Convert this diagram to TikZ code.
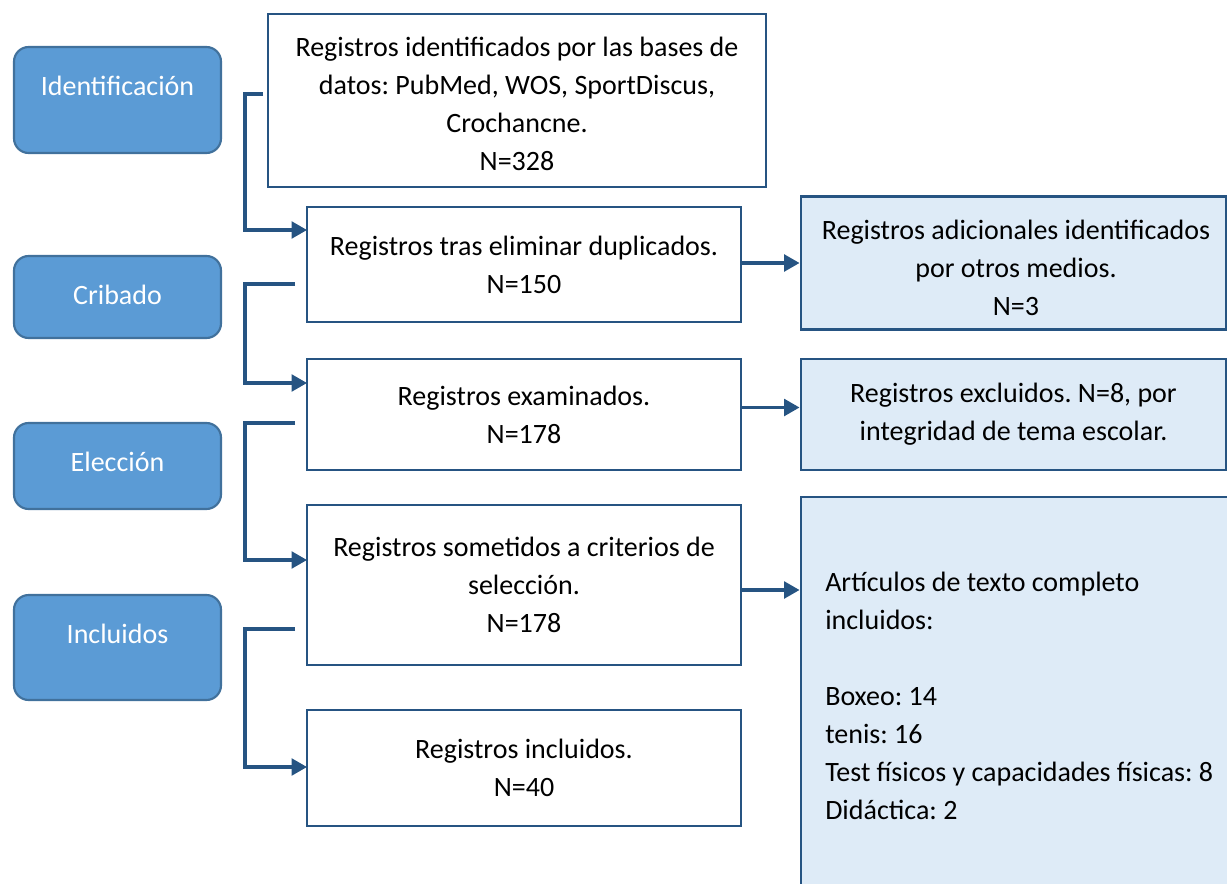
\documentclass[tikz,border=0pt]{standalone}
\usepackage{fontspec}
\setmainfont{Carlito}
\frenchspacing
\usetikzlibrary{arrows.meta,calc}
\definecolor{phasefill}{RGB}{91,155,213}
\definecolor{phaseline}{RGB}{65,113,156}
\definecolor{linkblue}{RGB}{38,84,130}
\definecolor{notefill}{RGB}{222,235,247}
\begin{document}
\begin{tikzpicture}[x=0.75pt,y=-0.75pt,
  font=\fontsize{21}{28.5}\selectfont,
  phase/.style={draw=phaseline, line width=1.6pt, fill=phasefill, rounded corners=11pt, inner sep=0pt},
  phasetext/.style={text=white, inner sep=0pt},
  stepbox/.style={draw=linkblue, line width=2.2pt, fill=white, inner sep=0pt, align=center},
  notebox/.style={draw=linkblue, line width=2.2pt, fill=notefill, inner sep=0pt, align=center},
  conn/.style={draw=linkblue, line width=2.3pt, -{Triangle[length=11.5pt,width=12.5pt]}}
  ]
\useasboundingbox (0,0) rectangle (1227,884);
\clip (0,0) rectangle (1227,884);

% phase boxes
\node[phase, minimum width=207*0.75pt, minimum height=106*0.75pt] (idbox) at (117.5,100) {};
\node[phase, minimum width=207*0.75pt, minimum height=82*0.75pt] (cribox) at (117.5,297) {};
\node[phase, minimum width=207*0.75pt, minimum height=86*0.75pt] (elebox) at (117.5,466) {};
\node[phase, minimum width=207*0.75pt, minimum height=105*0.75pt] (incbox) at (117.5,647.5) {};
\node[phasetext] (idtext) at (117.5,86) {Identificación};
\node[phasetext] (critext) at (117.5,295) {Cribado};
\node[phasetext] (eletext) at (117.5,462) {Elección};
\node[phasetext] (inctext) at (117.5,634) {Incluidos};

% main column
\node[stepbox, minimum width=498*0.75pt, minimum height=173*0.75pt] (dbs) at (517,100.5) {};
\node[align=center, inner sep=0pt] (dbstext) at (517,104)
  {Registros identificados por las bases de\\datos: PubMed, WOS, SportDiscus,\\Crochancne.\\N=328};
\node[stepbox, minimum width=434*0.75pt, minimum height=115*0.75pt] (dup) at (524,264.5)
  {Registros tras eliminar duplicados.\\N=150};
\node[stepbox, minimum width=434*0.75pt, minimum height=111*0.75pt] (exam) at (524,414.5)
  {Registros examinados.\\N=178};
\node[stepbox, minimum width=434*0.75pt, minimum height=160*0.75pt] (crit) at (524,585)
  {Registros sometidos a criterios de\\selección.\\N=178};
\node[stepbox, minimum width=434*0.75pt, minimum height=116*0.75pt] (incl) at (524,768)
  {Registros incluidos.\\N=40};

% right column
\node[notebox, minimum width=425*0.75pt, minimum height=133*0.75pt] (r1) at (1013.5,263) {};
\node[align=center, inner sep=0pt] (r1text) at (1016,268)
  {Registros adicionales identificados\\por otros medios.\\N=3};
\node[notebox, minimum width=425*0.75pt, minimum height=111*0.75pt] (r2) at (1013.5,414.5)
  {Registros excluidos. N=8, por\\integridad de tema escolar.};
\node[notebox, minimum width=439*0.75pt, minimum height=403*0.75pt] (r3) at (1020.5,698.5) {};
\node[anchor=west, align=left, inner sep=0pt] (r3text) at (825,696)
  {Artículos de texto completo\\incluidos:\\[28.5pt]Boxeo: 14\\tenis: 16\\Test físicos y capacidades físicas: 8\\Didáctica: 2};

% elbow connectors
\coordinate (s1) at (263,94);
\coordinate (s2) at (295,284);
\coordinate (s3) at (295,423);
\coordinate (s4) at (295,629);
\coordinate (e1) at (307,230);
\coordinate (e2) at (307,383);
\coordinate (e3) at (307,560);
\coordinate (e4) at (307,767);
\draw[conn] (s1) -- ++(-18,0) |- (e1);
\draw[conn] (s2) -- ++(-50,0) |- (e2);
\draw[conn] (s3) -- ++(-50,0) |- (e3);
\draw[conn] (s4) -- ++(-50,0) |- (e4);

% horizontal connectors
\draw[conn] ($(dup.east)+(0,-1.5)$) -- ($(dup.east -| r1.west)+(0,-1.5)$);
\draw[conn] ($(exam.east)+(0,-7)$) -- ($(exam.east -| r2.west)+(0,-7)$);
\draw[conn] ($(crit.east)+(0,5)$) -- ($(crit.east -| r3.west)+(0,5)$);
\end{tikzpicture}
\end{document}
